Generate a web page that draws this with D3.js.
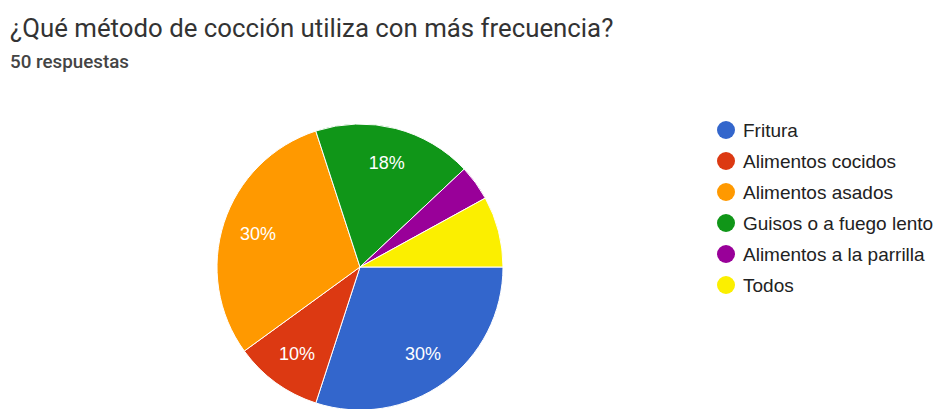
<!DOCTYPE html>
<html>
<head>
<meta charset="utf-8">
<script src="https://cdn.jsdelivr.net/npm/d3@7"></script>
<style>
  html, body { margin: 0; padding: 0; background: #fff; }
  svg { display: block; font-family: Roboto, Arial, sans-serif; }
</style>
</head>
<body>
<div id="chart"></div>
<script>
// data
var categories = ["Fritura", "Alimentos cocidos", "Alimentos asados", "Guisos o a fuego lento", "Alimentos a la parrilla", "Todos"];
var counts = [15, 5, 15, 9, 2, 4];
var colors = ["#3366cc", "#dc3912", "#ff9900", "#109618", "#990099", "#fbef00"];
var title = "¿Qué método de cocción utiliza con más frecuencia?";
var subtitle = "50 respuestas";

var width = 940, height = 409;
var cx = 360, cy = 267, radius = 143;

var svg = d3.select("#chart")
  .append("svg")
  .attr("width", width)
  .attr("height", height);

svg.append("text")
  .attr("x", 10)
  .attr("y", 37)
  .style("font-size", "25.8px")
  .style("fill", "#333")
  .text(title);

svg.append("text")
  .attr("x", 10)
  .attr("y", 68)
  .style("font-size", "18.8px")
  .style("font-weight", 500)
  .style("fill", "#444")
  .text(subtitle);

var total = d3.sum(counts);
var rows = categories.map(function(c, i){ return {name: c, value: counts[i], color: colors[i]}; });

// google style: starts at 3 o'clock, clockwise
var pie = d3.pie()
  .value(function(d){ return d.value; })
  .sort(null)
  .startAngle(Math.PI / 2)
  .endAngle(Math.PI / 2 + 2 * Math.PI);

var arc = d3.arc().innerRadius(0).outerRadius(radius);
var labelArc = d3.arc().innerRadius(radius * 0.75).outerRadius(radius * 0.75);

var g = svg.append("g")
  .attr("transform", "translate(" + cx + "," + cy + ")");

var arcs = pie(rows);

g.selectAll("path")
  .data(arcs)
  .enter().append("path")
  .attr("d", arc)
  .attr("fill", function(d){ return d.data.color; })
  .attr("stroke", "#fff")
  .attr("stroke-width", 1);

g.selectAll("text.pct")
  .data(arcs.filter(function(d){ return d.data.value / total >= 0.1; }))
  .enter().append("text")
  .attr("class", "pct")
  .attr("transform", function(d){ return "translate(" + labelArc.centroid(d) + ")"; })
  .attr("text-anchor", "middle")
  .attr("dy", "0.35em")
  .style("font-family", "Arial, 'Liberation Sans', sans-serif")
  .style("font-size", "18px")
  .style("fill", "#fff")
  .text(function(d){ return Math.round(d.data.value / total * 100) + "%"; });

// legend
var legendY = d3.scalePoint()
  .domain(categories)
  .range([130, 285]);

var legend = svg.append("g")
  .style("font-family", "Arial, 'Liberation Sans', sans-serif");

var item = legend.selectAll("g")
  .data(rows)
  .enter().append("g")
  .attr("transform", function(d){ return "translate(726," + legendY(d.name) + ")"; });

item.append("circle")
  .attr("r", 9)
  .attr("fill", function(d){ return d.color; });

item.append("text")
  .attr("x", 17)
  .attr("dy", "0.35em")
  .style("font-size", "19px")
  .style("fill", "#222")
  .text(function(d){ return d.name; });
</script>
</body>
</html>
